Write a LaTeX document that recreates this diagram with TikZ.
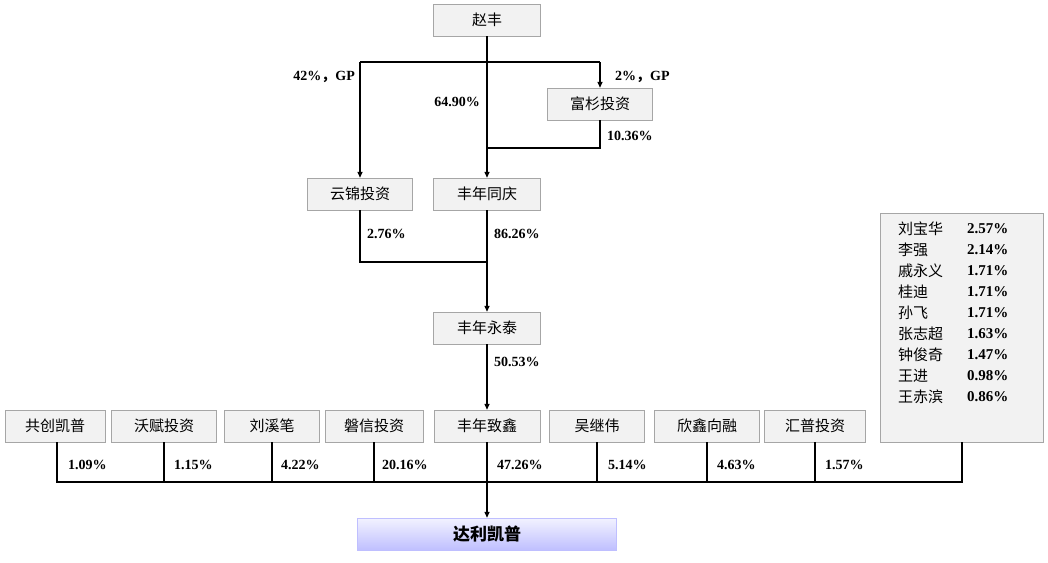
\documentclass[tikz,border=0pt]{standalone}
\usepackage{fontspec}
\setmainfont{Liberation Serif}
\newfontfamily\cjk{Noto Sans CJK SC}
\usetikzlibrary{arrows.meta, positioning}
\tikzset{
  box/.style={draw=black!35, fill=black!5, minimum width=100pt, minimum height=32pt, font=\cjk\fontsize{15}{15}\selectfont, inner sep=0pt},
  pct/.style={font=\bfseries\fontsize{14}{14}\selectfont, inner sep=1pt},
  link/.style={line width=1.3pt},
  arr/.style={link, -{Triangle[length=6pt,width=5pt]}}
}
\begin{document}
\begin{tikzpicture}[x=1pt, y=-1pt]
\useasboundingbox (0,0) rectangle (1048,562);

%nodes
\node (zf) [box, minimum width=107pt] at (487,20) {赵丰};
\node (fs) [box, minimum width=105pt] at (600,104) {富杉投资};
\node (yj) [box, minimum width=105pt] at (360,194) {云锦投资};
\node (fntq) [box, minimum width=107pt] at (487,194) {丰年同庆};
\node (fnyt) [box, minimum width=107pt] at (487,328) {丰年永泰};
\node (gc) [box] at (55,426) {共创凯普};
\node (wf) [box, minimum width=105pt] at (164,426) {沃赋投资};
\node (lx) [box, minimum width=95pt] at (272,426) {刘溪笔};
\node (px) [box, minimum width=98pt] at (374,426) {磐信投资};
\node (fnzx) [box, minimum width=106pt] at (487,426) {丰年致鑫};
\node (wj) [box, minimum width=95pt] at (597,426) {吴继伟};
\node (xx) [box, minimum width=105pt] at (707,426) {欣鑫向融};
\node (hp) [box, minimum width=101pt] at (815,426) {汇普投资};
\node (people) [box, minimum width=163pt, minimum height=229pt, anchor=north west] at (880,213) {};
\node (dl) [draw=blue!25, top color=blue!5, bottom color=blue!25, minimum width=259pt, minimum height=32pt, inner sep=0pt, font=\cjk\bfseries\fontsize{17}{17}\selectfont] at (487,534) {达利凯普};

\node [anchor=north west, align=left, inner sep=0pt, font=\fontsize{15}{21}\selectfont] at (898,222)
  {{\cjk 刘宝华} \\ {\cjk 李强} \\ {\cjk 戚永义} \\ {\cjk 桂迪} \\ {\cjk 孙飞} \\ {\cjk 张志超} \\ {\cjk 钟俊奇} \\ {\cjk 王进} \\ {\cjk 王赤滨}};
\node [anchor=north west, align=left, inner sep=0pt, font=\bfseries\fontsize{15}{21}\selectfont] at (967,223)
  {2.57\% \\ 2.14\% \\ 1.71\% \\ 1.71\% \\ 1.71\% \\ 1.63\% \\ 1.47\% \\ 0.98\% \\ 0.86\%};

\coordinate (bar) at (487,482);
\coordinate (barl) at (57,442);
\coordinate (barr) at (962,442);

%arrows
\draw [link] (360,62) -- (600,62);
\draw [arr] (zf) -- (fntq);
\draw [arr] (360,62) -- (yj);
\draw [arr] (600,62) -- (fs);
\draw [link] (fs) |- (487,148);
\draw [link] (yj) |- (487,262);
\draw [arr] (fntq) -- (fnyt);
\draw [arr] (fnyt) -- (fnzx);
\draw [link] (barl) |- (962,482) -- (barr);
\foreach \n in {wf, lx, px, fnzx, wj, xx, hp}
  \draw [link] (\n) -- (\n |- bar);
\draw [arr] (bar) -- (dl);

%labels
\node [pct, anchor=east] at (356,77) {42\%{\cjk ，}GP};
\node [pct, anchor=west] at (614,77) {2\%{\cjk ，}GP};
\node [pct, anchor=east] at (481,102) {64.90\%};
\node [pct, anchor=west] at (606,136) {10.36\%};
\node [pct, anchor=west] at (366,234) {2.76\%};
\node [pct, anchor=west] at (493,234) {86.26\%};
\node [pct, anchor=west] at (493,362) {50.53\%};
\node [pct, anchor=west] at (67,465) {1.09\%};
\node [pct, anchor=west] at (173,465) {1.15\%};
\node [pct, anchor=west] at (280,465) {4.22\%};
\node [pct, anchor=west] at (381,465) {20.16\%};
\node [pct, anchor=west] at (496,465) {47.26\%};
\node [pct, anchor=west] at (607,465) {5.14\%};
\node [pct, anchor=west] at (716,465) {4.63\%};
\node [pct, anchor=west] at (824,465) {1.57\%};
\end{tikzpicture}
\end{document}
